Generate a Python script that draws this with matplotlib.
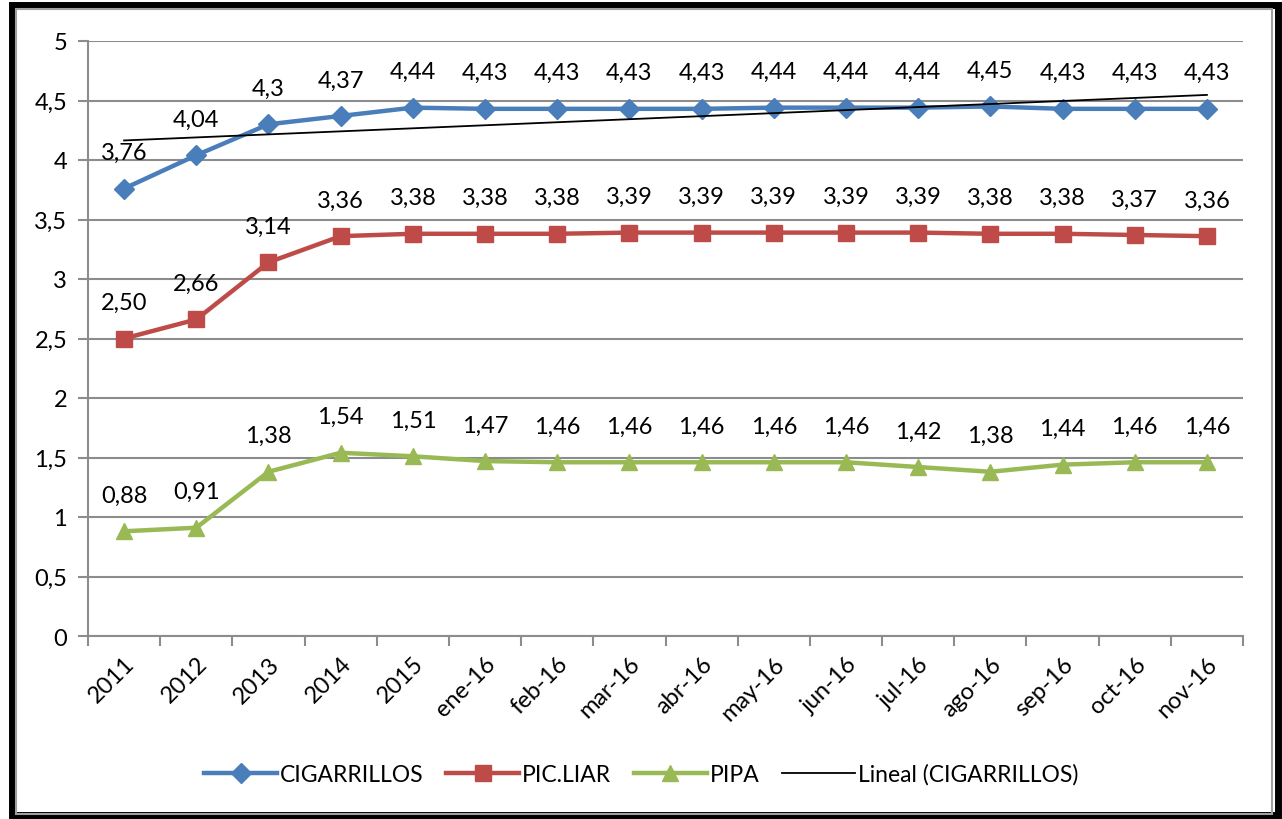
import numpy as np
import matplotlib.pyplot as plt
from matplotlib.patches import Rectangle

plt.rcParams['font.family'] = ['Lato', 'DejaVu Sans']

labels = ['2011', '2012', '2013', '2014', '2015', 'ene-16', 'feb-16', 'mar-16',
          'abr-16', 'may-16', 'jun-16', 'jul-16', 'ago-16', 'sep-16', 'oct-16', 'nov-16']
cigarrillos = [3.76, 4.04, 4.30, 4.37, 4.44, 4.43, 4.43, 4.43, 4.43, 4.44, 4.44, 4.44, 4.45, 4.43, 4.43, 4.43]
pic_liar = [2.50, 2.66, 3.14, 3.36, 3.38, 3.38, 3.38, 3.39, 3.39, 3.39, 3.39, 3.39, 3.38, 3.38, 3.37, 3.36]
pipa = [0.88, 0.91, 1.38, 1.54, 1.51, 1.47, 1.46, 1.46, 1.46, 1.46, 1.46, 1.42, 1.38, 1.44, 1.46, 1.46]
cig_txt = ['3,76', '4,04', '4,3', '4,37', '4,44', '4,43', '4,43', '4,43', '4,43', '4,44', '4,44', '4,44', '4,45', '4,43', '4,43', '4,43']
pic_txt = ['2,50', '2,66', '3,14', '3,36', '3,38', '3,38', '3,38', '3,39', '3,39', '3,39', '3,39', '3,39', '3,38', '3,38', '3,37', '3,36']
pipa_txt = ['0,88', '0,91', '1,38', '1,54', '1,51', '1,47', '1,46', '1,46', '1,46', '1,46', '1,46', '1,42', '1,38', '1,44', '1,46', '1,46']

blue = '#4A7EBB'
red = '#BE4B48'
green = '#98B954'
grid_c = '#8C8C8C'

fig = plt.figure(figsize=(12.82, 8.2), dpi=100)
ax = fig.add_axes([88 / 1282, 1 - 637 / 820, (1243 - 88) / 1282, (637 - 42) / 820])

x = np.arange(len(labels))
ax.plot(x, cigarrillos, color=blue, lw=3.2, marker='D', ms=10, label='CIGARRILLOS', zorder=3)
ax.plot(x, pic_liar, color=red, lw=3.2, marker='s', ms=12, label='PIC.LIAR', zorder=3)
ax.plot(x, pipa, color=green, lw=3.2, marker='^', ms=12, label='PIPA', zorder=3)

# linear trend of CIGARRILLOS
coef = np.polyfit(x, cigarrillos, 1)
ax.plot(x, np.polyval(coef, x), color='black', lw=1.3, label='Lineal (CIGARRILLOS)', zorder=4)

for vals, txts in [(cigarrillos, cig_txt), (pic_liar, pic_txt), (pipa, pipa_txt)]:
    for xi, v, t in zip(x, vals, txts):
        ax.annotate(t, (xi, v), xytext=(0, 26), textcoords='offset points',
                    ha='center', va='center', fontsize=17)

ax.set_xlim(-0.5, len(labels) - 0.5)
ax.set_ylim(0, 5)
ax.set_yticks(np.arange(0, 5.01, 0.5))
ax.set_yticklabels(['0', '0,5', '1', '1,5', '2', '2,5', '3', '3,5', '4', '4,5', '5'], fontsize=17)
ax.set_xticks(x)
ax.set_xticklabels(labels, rotation=45, ha='right', rotation_mode='anchor', fontsize=17)
ax.set_xticks(np.arange(-0.5, len(labels), 1), minor=True)
ax.tick_params(axis='x', which='major', length=0, pad=12)
ax.tick_params(axis='x', which='minor', length=7, color=grid_c, width=1.5, direction='out')
ax.tick_params(axis='y', length=7, color=grid_c, width=1.5, pad=8)
ax.yaxis.grid(True, color=grid_c, lw=1.5)
ax.set_axisbelow(True)
for s in ['top', 'right']:
    ax.spines[s].set_visible(False)
for s in ['left', 'bottom']:
    ax.spines[s].set_color(grid_c)
    ax.spines[s].set_linewidth(1.5)

fig.legend(loc='center', bbox_to_anchor=(0.5, 1 - 775 / 820), ncol=4, frameon=False,
           fontsize=16.5, handlelength=3.2, columnspacing=1.0, handletextpad=0.1)

# outer chart frame with shadow
fig.patches.append(Rectangle((12 / 1282, 4 / 820), 1266 / 1282, 810 / 820, transform=fig.transFigure,
                             fill=False, edgecolor='black', lw=5, zorder=0))
fig.patches.append(Rectangle((16 / 1282, 5 / 820), 1256 / 1282, 805 / 820, transform=fig.transFigure,
                             fill=False, edgecolor='#A0A0A0', lw=1.5, zorder=0))

fig.savefig('out.png', dpi=100)
